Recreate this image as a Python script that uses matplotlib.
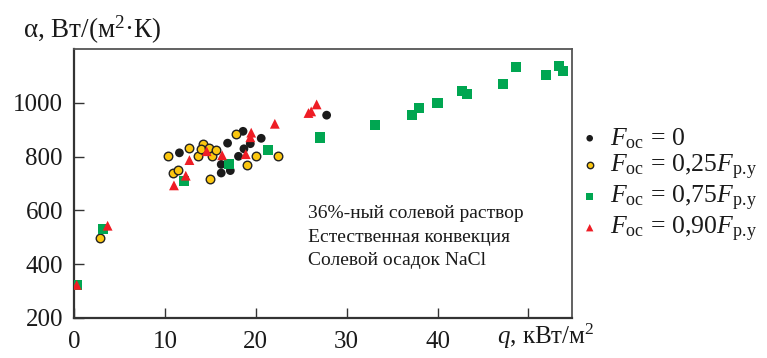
import matplotlib
matplotlib.use("Agg")
import matplotlib.pyplot as plt

plt.rcParams['font.family'] = ['Liberation Serif', 'DejaVu Serif']
plt.rcParams['mathtext.fontset'] = 'custom'
plt.rcParams['mathtext.rm'] = 'Liberation Serif'
plt.rcParams['mathtext.it'] = 'Liberation Serif:italic'
plt.rcParams['mathtext.bf'] = 'Liberation Serif:bold'

# ---- data (q, kW/m^2 ; alpha, W/(m^2 K)) ----
q_f0 = [11.6, 16.9, 16.2, 16.2, 17.2, 18.1, 18.6, 18.7, 19.4, 20.6, 27.8]
a_f0 = [814, 850, 771, 739, 748, 801, 894, 829, 848, 868, 954]

q_f25 = [2.9, 10.3, 10.9, 11.4, 12.6, 13.6, 14.2, 14.0, 14.9, 15.2, 15.6, 15.0, 17.8, 19.0, 20.0, 22.4]
a_f25 = [499, 804, 739, 751, 833, 804, 847, 828, 833, 803, 823, 717, 884, 767, 804, 801]

q_f75 = [0.3, 3.2, 12.1, 17.1, 21.4, 27.1, 33.1, 37.2, 38.0, 40.0, 42.7, 43.2, 47.2, 48.6, 51.9, 53.4, 53.8]
a_f75 = [323, 530, 711, 772, 823, 871, 918, 953, 979, 998, 1043, 1031, 1069, 1132, 1102, 1136, 1117]

q_f90 = [0.3, 3.7, 11.0, 12.3, 12.7, 14.6, 16.3, 18.9, 19.4, 19.5, 22.1, 25.8, 26.1, 26.7]
a_f90 = [323, 543, 693, 729, 787, 820, 805, 809, 872, 889, 922, 962, 968, 994]

labels = [r'$F_{\mathrm{ос}}\,=\,0$',
          r'$F_{\mathrm{ос}}\,=\,0{,}25F_{\mathrm{р.\!у}}$',
          r'$F_{\mathrm{ос}}\,=\,0{,}75F_{\mathrm{р.\!у}}$',
          r'$F_{\mathrm{ос}}\,=\,0{,}90F_{\mathrm{р.\!у}}$']

x_ticks = [0, 10, 20, 30, 40, 50]
x_ticklabels = ['0', '10', '20', '30', '40', '']
y_ticks = [200, 400, 600, 800, 1000]
y_ticklabels = ['200', '400', '600', '800', '1000']

notes = ['36%-ный солевой раствор', 'Естественная конвекция', 'Солевой осадок NaCl']

# ---- figure ----
W, H = 767, 358
fig = plt.figure(figsize=(W / 100, H / 100), dpi=100)
ax = fig.add_axes([74 / W, 40 / H, 498 / W, 269 / H])

c_black = '#1b1b1b'
c_yellow = '#fcc70f'
c_green = '#00a651'
c_red = '#ee1d25'

h0 = ax.scatter(q_f0, a_f0, s=40, marker='o', c=c_black, edgecolors='none', zorder=3)
h1 = ax.scatter(q_f25, a_f25, s=38, marker='o', c=c_yellow, edgecolors='#222222',
                linewidths=1.0, zorder=3)
h2 = ax.scatter(q_f75, a_f75, s=52, marker='s', c=c_green, edgecolors='none', zorder=4)
h3 = ax.scatter(q_f90, a_f90, s=50, marker='^', c=c_red, edgecolors='none', zorder=5)

ax.set_xlim(0, 54.8)
ax.set_ylim(200, 1200)
ax.set_xticks(x_ticks)
ax.set_xticklabels(x_ticklabels)
ax.set_yticks(y_ticks)
ax.set_yticklabels(y_ticklabels)
ax.tick_params(axis='both', direction='in', length=7, width=1.0, color='#333333',
               labelsize=18, labelcolor='#1a1a1a')
ax.tick_params(axis='x', pad=9)
ax.tick_params(axis='y', pad=8)
for side in ['left', 'bottom']:
    ax.spines[side].set_linewidth(1.6)
    ax.spines[side].set_color('#333333')
for side in ['top', 'right']:
    ax.spines[side].set_linewidth(1.3)
    ax.spines[side].set_color('#555555')

# axis labels
fig.text(23 / W, 1 - 38 / H, 'α, Вт/(м$^{2}$·К)', fontsize=19.5, color='#1a1a1a',
         ha='left', va='baseline')
fig.text(497 / W, 1 - 344 / H, '$q$, кВт/м$^{2}$', fontsize=18, color='#1a1a1a',
         ha='left', va='baseline')

# annotation
for i, line in enumerate(notes):
    fig.text(308 / W, 1 - (218 + 23.5 * i) / H, line, fontsize=14, color='#1a1a1a',
             ha='left', va='baseline')

# legend
leg = ax.legend([h0, h1, h2, h3], labels, loc='upper left',
                bbox_to_anchor=(582 / W, 1 - 126 / H), bbox_transform=fig.transFigure,
                frameon=False, fontsize=18.5, markerscale=0.75, handlelength=0.6,
                handletextpad=0.5, labelspacing=0.08, borderpad=0, borderaxespad=0)
for t in leg.get_texts():
    t.set_color('#1a1a1a')

fig.savefig('out.png', dpi=100)
